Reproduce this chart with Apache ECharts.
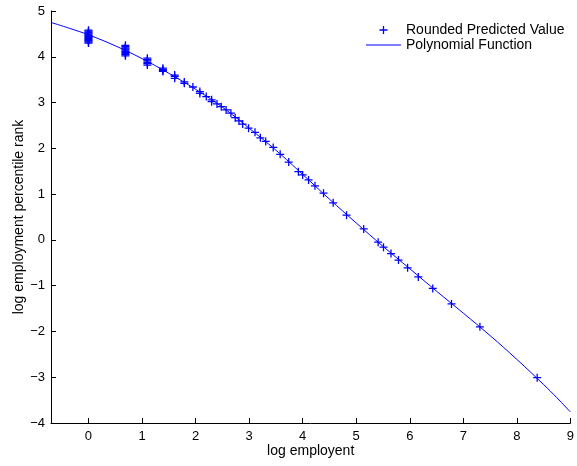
<!DOCTYPE html>
<html>
<head>
<meta charset="utf-8">
<script src="https://cdn.jsdelivr.net/npm/echarts@6/dist/echarts.min.js"></script>
<style>
html,body{margin:0;padding:0;background:#fff;}
#chart{width:577px;height:466px;}
</style>
</head>
<body>
<div id="chart"></div>
<script>
// Rounded predicted values (markers)
var markerX = [
  0, 0, 0, 0, 0, 0, 0, 0, 0, 0, 0, 0, 0, 0, 0,
  0.69, 0.69, 0.69, 0.69, 0.69, 0.69, 0.69, 0.69, 0.69, 0.69,
  1.1, 1.1, 1.1, 1.1, 1.1, 1.1,
  1.39, 1.39, 1.39, 1.39,
  1.61, 1.61, 1.61,
  1.79, 1.79,
  1.95, 2.08, 2.08, 2.2, 2.3, 2.3, 2.4, 2.48, 2.57, 2.66, 2.74, 2.81, 2.88,
  2.99, 3.11, 3.21, 3.31, 3.45, 3.58, 3.74, 3.92, 4.0, 4.11, 4.23, 4.39,
  4.57, 4.82, 5.14, 5.41, 5.51, 5.65, 5.79, 5.96, 6.16, 6.43, 6.78, 7.31, 8.38
];
var markerY = [
  4.30, 4.32, 4.34, 4.36, 4.38, 4.40, 4.42, 4.44, 4.46, 4.48, 4.50, 4.52, 4.54, 4.56, 4.58,
  4.02, 4.045, 4.07, 4.095, 4.12, 4.145, 4.17, 4.195, 4.22, 4.25,
  3.82, 3.85, 3.88, 3.91, 3.94, 3.97,
  3.68, 3.70, 3.72, 3.75,
  3.53, 3.57, 3.60,
  3.42, 3.45,
  3.34, 3.20, 3.24, 3.13, 3.02, 3.06, 2.97, 2.91, 2.84, 2.77, 2.67, 2.60, 2.53,
  2.44, 2.35, 2.23, 2.15, 2.02, 1.87, 1.70, 1.49, 1.42, 1.31, 1.18, 1.02,
  0.81, 0.54, 0.24, -0.05, -0.16, -0.30, -0.44, -0.61, -0.81, -1.06, -1.40, -1.90, -3.01
];
// Polynomial function
var curveX = [-0.7, -0.35, 0, 0.5, 1, 1.5, 2, 2.5, 3, 3.5, 4, 4.5, 5, 5.5, 6, 6.5, 7, 7.5, 8, 8.5, 8.75, 9];
var curveY = [4.75, 4.62, 4.48, 4.24, 3.96, 3.64, 3.29, 2.90, 2.44, 1.96, 1.43, 0.89, 0.37, -0.14, -0.63, -1.12, -1.60, -2.09, -2.61, -3.16, -3.45, -3.76];
var xTicks = [0, 1, 2, 3, 4, 5, 6, 7, 8, 9];

var FONT = '"Liberation Sans", Arial, Helvetica, sans-serif';
var plusPath = 'path://M4.2,0 H5.8 V4.2 H10 V5.8 H5.8 V10 H4.2 V5.8 H0 V4.2 H4.2 Z';
var linePath = 'path://M0,0 H35 V1 H0 Z';

function minusFmt(v) { return String(v).replace('-', '\u2212'); }

var scatterData = markerX.map(function (x, i) { return [x, markerY[i]]; });
var curveData = curveX.map(function (x, i) { return [x, curveY[i]]; });

var chart = echarts.init(document.getElementById('chart'), null, {renderer: 'canvas'});
chart.setOption({
  animation: false,
  backgroundColor: '#fff',
  textStyle: {fontFamily: FONT},
  grid: {left: 51, right: 4, top: 11, bottom: 43, containLabel: false},
  legend: {
    orient: 'vertical',
    left: 366,
    top: 23,
    itemWidth: 35,
    itemHeight: 8,
    itemGap: 1,
    padding: 0,
    textStyle: {fontFamily: FONT, fontSize: 14, color: '#000'},
    data: [
      {name: 'Rounded Predicted Value', icon: plusPath},
      {name: 'Polynomial Function', icon: linePath}
    ]
  },
  xAxis: {
    type: 'value',
    min: -0.7,
    max: 9,
    name: 'log employent',
    nameLocation: 'middle',
    nameGap: 21,
    nameMoveOverlap: false,
    nameTextStyle: {fontFamily: FONT, fontSize: 14, color: '#000', verticalAlign: 'top'},
    axisLine: {show: true, onZero: false, lineStyle: {color: '#000', width: 1}},
    axisTick: {show: true, inside: true, length: 5, lineStyle: {color: '#000'}, customValues: xTicks},
    axisLabel: {fontFamily: FONT, fontSize: 13, color: '#000', margin: 7, customValues: xTicks, formatter: minusFmt},
    splitLine: {show: false}
  },
  yAxis: {
    type: 'value',
    min: -4,
    max: 5,
    interval: 1,
    name: 'log employment percentile rank',
    nameLocation: 'middle',
    nameGap: 25,
    nameMoveOverlap: false,
    nameTextStyle: {fontFamily: FONT, fontSize: 14, color: '#000'},
    axisLine: {show: true, onZero: false, lineStyle: {color: '#000', width: 1}},
    axisTick: {show: true, inside: true, length: 5, lineStyle: {color: '#000'}},
    axisLabel: {fontFamily: FONT, fontSize: 13, color: '#000', margin: 6, formatter: minusFmt},
    splitLine: {show: false}
  },
  series: [
    {
      name: 'Rounded Predicted Value',
      type: 'scatter',
      data: scatterData,
      symbol: plusPath,
      symbolSize: 8,
      itemStyle: {color: '#0000ff', opacity: 1},
      z: 3
    },
    {
      name: 'Polynomial Function',
      type: 'line',
      data: curveData,
      smooth: 0.4,
      symbol: 'none',
      showSymbol: false,
      lineStyle: {color: '#0000ff', width: 1},
      itemStyle: {color: '#0000ff'},
      z: 2
    }
  ]
});
</script>
</body>
</html>
